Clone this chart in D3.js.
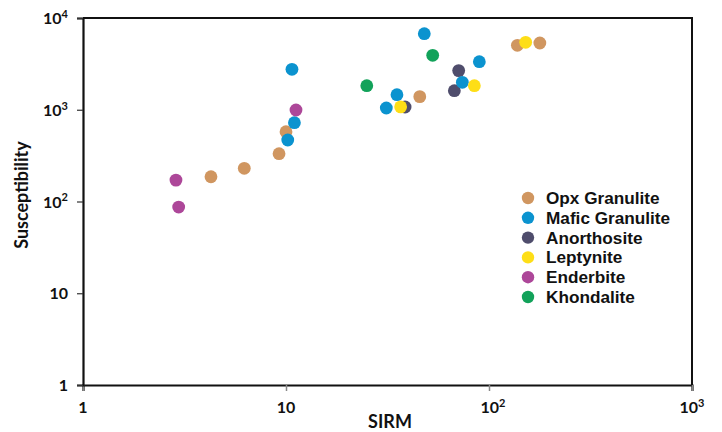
<!DOCTYPE html>
<html>
<head>
<meta charset="utf-8">
<script src="https://cdn.jsdelivr.net/npm/d3@7.9.0/dist/d3.min.js"></script>
<style>
  body { margin: 0; background: #fff; }
  svg { display: block; font-family: Lato, "Open Sans", sans-serif; }
</style>
</head>
<body>
<div id="chart"></div>
<script>
// series names and colours
const seriesNames = ['Opx Granulite', 'Mafic Granulite', 'Anorthosite', 'Leptynite', 'Enderbite', 'Khondalite'];
const seriesColors = ['#d09660', '#0b93cf', '#4f4d6c', '#fede17', '#ad4799', '#12a25a'];

// SIRM (x) and susceptibility (y) for each rock type
const opxSirm = [4.27, 6.23, 9.24, 10.0, 45.6, 138, 178];
const opxSusc = [186, 230, 332, 577, 1390, 5040, 5340];
const maficSirm = [10.2, 11.0, 10.7, 35.2, 31.2, 48.0, 73.9, 89.6];
const maficSusc = [468, 723, 2760, 1460, 1045, 6750, 1990, 3340];
const anorSirm = [38.6, 70.9, 67.5];
const anorSusc = [1072, 2670, 1614];
const leptSirm = [36.7, 84.7, 151.6];
const leptSusc = [1075, 1830, 5430];
const endSirm = [2.87, 2.96, 11.2];
const endSusc = [171, 87, 994];
const khonSirm = [25.0, 52.8];
const khonSusc = [1830, 3920];

// draw order: back to front
const drawOrder = [0, 2, 1, 3, 4, 5];
const seriesX = [opxSirm, maficSirm, anorSirm, leptSirm, endSirm, khonSirm];
const seriesY = [opxSusc, maficSusc, anorSusc, leptSusc, endSusc, khonSusc];

// tick labels: [base, exponent]
const xTicks = [1, 10, 100, 1000];
const yTicks = [1, 10, 100, 1000, 10000];
const tickLabel = v => {
  const e = Math.round(Math.log10(v));
  return e <= 1 ? [String(v), ''] : ['10', String(e)];
};

const width = 722, height = 432;
const margin = { top: 18, right: 30, bottom: 47, left: 83 };

const svg = d3.select('#chart').append('svg')
  .attr('width', width)
  .attr('height', height);

const x = d3.scaleLog()
  .domain([1, 1000])
  .range([margin.left, width - margin.right]);

const y = d3.scaleLog()
  .domain([1, 10000])
  .range([height - margin.bottom, margin.top]);

const x0 = margin.left, x1 = width - margin.right;
const y0 = height - margin.bottom, y1 = margin.top;

// frame: top and right
svg.append('path')
  .attr('d', `M${x0},${y1}H${x1}V${y0}`)
  .attr('fill', 'none')
  .attr('stroke', '#111')
  .attr('stroke-width', 2);

// x axis
const xAxis = svg.append('g')
  .attr('transform', `translate(0,${y0})`)
  .call(d3.axisBottom(x).tickValues(xTicks).tickSize(6).tickFormat(''));
xAxis.select('.domain').attr('stroke', '#111').attr('stroke-width', 2.2);
xAxis.selectAll('.tick line').attr('stroke', '#888').attr('stroke-width', 1.5);

// y axis
const yAxis = svg.append('g')
  .attr('transform', `translate(${x0},0)`)
  .call(d3.axisLeft(y).tickValues(yTicks).tickSize(6).tickFormat(''));
yAxis.select('.domain').attr('stroke', '#111').attr('stroke-width', 2.2);
yAxis.selectAll('.tick line').attr('stroke', '#333').attr('stroke-width', 1.2);

function addLabel(sel, v) {
  const [b, e] = tickLabel(v);
  sel.append('tspan').text(b);
  if (e) {
    sel.append('tspan')
      .attr('dy', '-0.55em')
      .style('font-size', '11px')
      .text(e);
  }
}

xTicks.forEach(v => {
  const t = svg.append('text')
    .attr('x', x(v) + (v === 100 ? 4 : 0))
    .attr('y', y0 + 28)
    .attr('text-anchor', 'middle')
    .style('font-size', '16px')
    .style('font-weight', 'bold')
    .attr('fill', '#111');
  addLabel(t, v);
});

yTicks.forEach(v => {
  const t = svg.append('text')
    .attr('x', x0 - 15)
    .attr('y', y(v) + 6)
    .attr('text-anchor', 'end')
    .style('font-size', '16px')
    .style('font-weight', 'bold')
    .attr('fill', '#111');
  addLabel(t, v);
});

// axis titles
svg.append('text')
  .attr('x', 390)
  .attr('y', 428)
  .attr('text-anchor', 'middle')
  .style('font-size', '18px')
  .style('font-weight', 'bold')
  .attr('fill', '#111')
  .text('SIRM');

svg.append('text')
  .attr('transform', `translate(28,195) rotate(-90)`)
  .attr('text-anchor', 'middle')
  .style('font-size', '18px')
  .style('font-weight', 'bold')
  .attr('fill', '#111')
  .text('Susceptibility');

// points
drawOrder.forEach(i => {
  const pts = seriesX[i].map((v, j) => ({ sx: v, sy: seriesY[i][j] }));
  svg.append('g')
    .selectAll('circle')
    .data(pts)
    .join('circle')
    .attr('cx', d => x(d.sx))
    .attr('cy', d => y(d.sy))
    .attr('r', 6.4)
    .attr('fill', seriesColors[i]);
});

// legend
const legend = svg.append('g')
  .attr('transform', 'translate(528,198)');

const item = legend.selectAll('g')
  .data(seriesNames)
  .join('g')
  .attr('transform', (d, i) => `translate(0,${i * 19.8})`);

item.append('circle')
  .attr('r', 6.2)
  .attr('fill', (d, i) => seriesColors[i]);

item.append('text')
  .attr('x', 18)
  .attr('y', 6)
  .style('font-family', '"Liberation Sans", Arial, sans-serif')
  .style('font-size', '17.2px')
  .style('font-weight', 'bold')
  .attr('fill', '#111')
  .text(d => d);
</script>
</body>
</html>
